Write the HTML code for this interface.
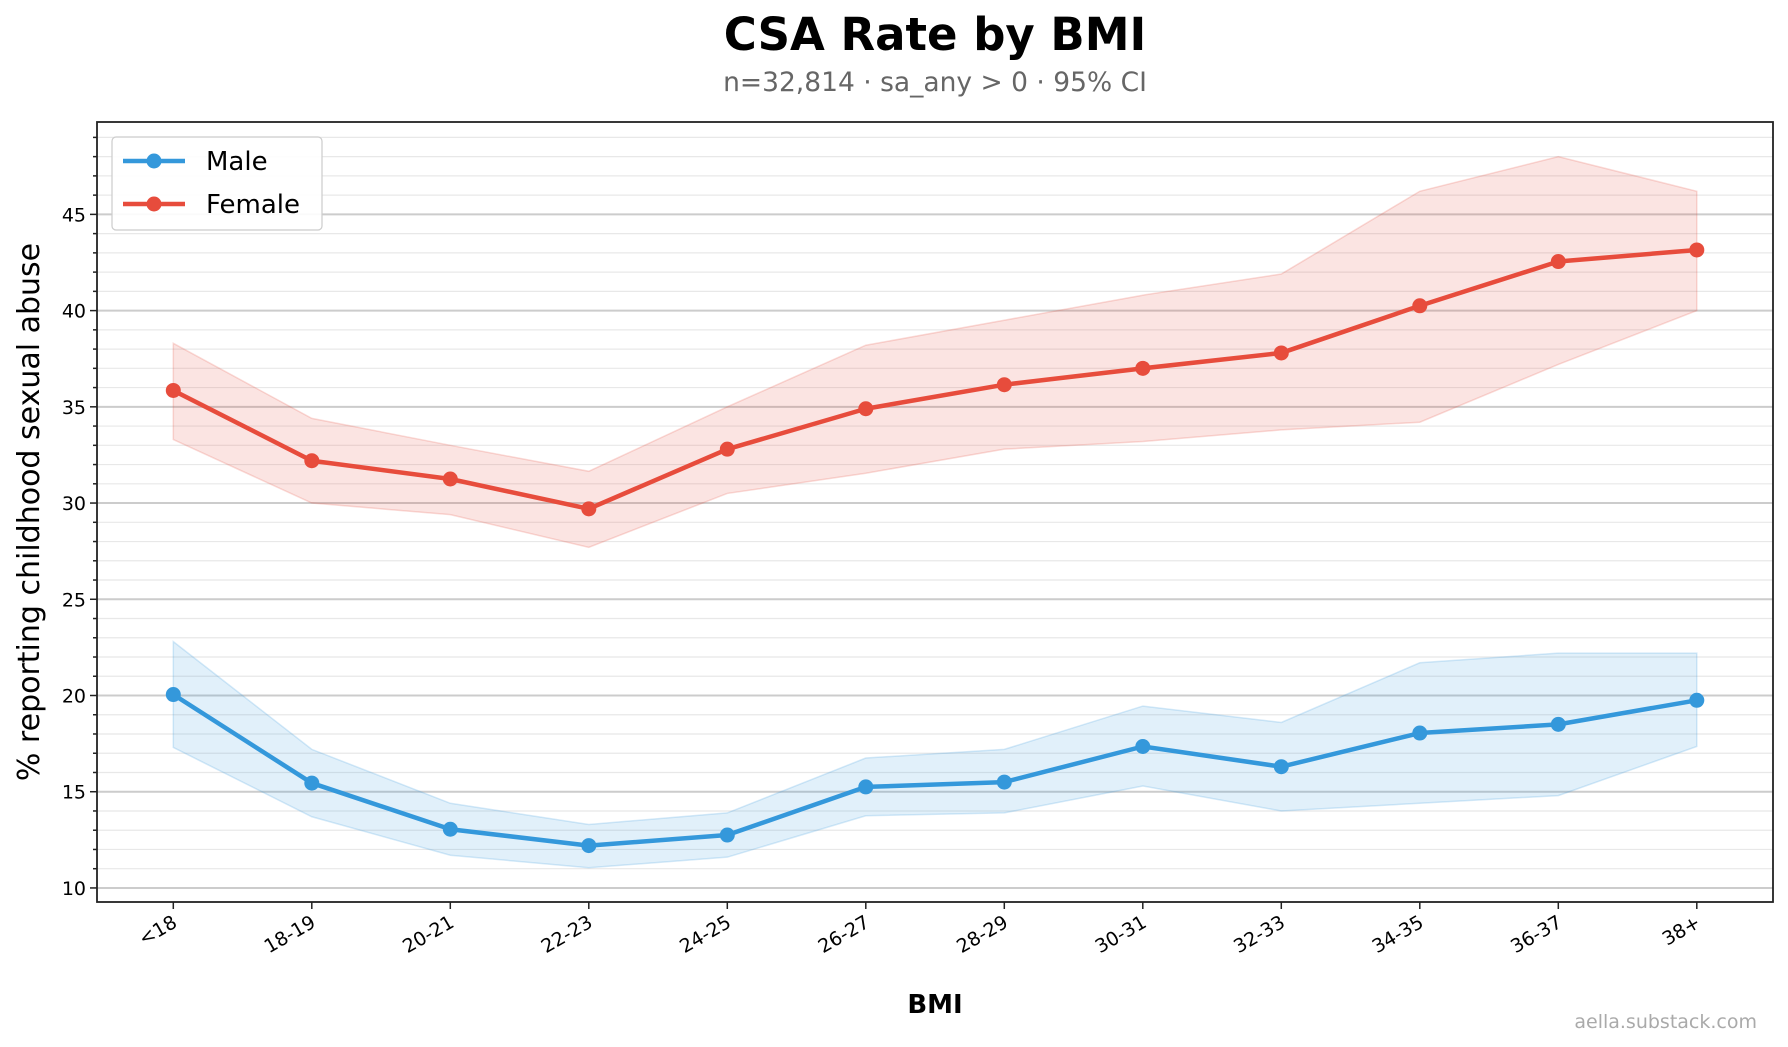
<!DOCTYPE html>
<html><head><meta charset="utf-8"><style>
html,body{margin:0;padding:0;background:#fff}
svg{display:block;font-family:"DejaVu Sans","Liberation Sans",sans-serif}
</style></head><body>
<svg id="chart" width="1788" height="1047" viewBox="0 0 1788 1047" xmlns="http://www.w3.org/2000/svg">
<rect width="1788" height="1047" fill="#fff"/>
<text x="935" y="50" text-anchor="middle" font-size="45" font-weight="bold" fill="#000">CSA Rate by BMI</text>
<text x="935" y="91" text-anchor="middle" font-size="26.5" fill="#666">n=32,814 · sa_any &gt; 0 · 95% CI</text>
<g id="grid"></g>
<g id="bands"></g>
<g id="lines"></g>
<rect x="97" y="122" width="1676" height="780" fill="none" stroke="#222" stroke-width="1.8"/>
<g id="axes"></g>
<text transform="translate(39,512) rotate(-90)" text-anchor="middle" font-size="30" fill="#000">% reporting childhood sexual abuse</text>
<text x="935" y="1013" text-anchor="middle" font-size="26" font-weight="bold" fill="#000">BMI</text>
<text x="1757" y="1028" text-anchor="end" font-size="19" fill="#aaa">aella.substack.com</text>
<g>
<rect x="112" y="137" width="210" height="93" rx="4" fill="#fff" fill-opacity="0.9" stroke="#ccc" stroke-width="1.2"/>
<g>
<line x1="123" y1="161" x2="185" y2="161" stroke="#3498db" stroke-width="4.5"/><circle cx="154" cy="161" r="7.5" fill="#3498db"/>
<text x="206" y="170" font-size="26" fill="#000">Male</text></g>
<g>
<line x1="123" y1="204" x2="185" y2="204" stroke="#e74c3c" stroke-width="4.5"/><circle cx="154" cy="204" r="7.5" fill="#e74c3c"/>
<text x="206" y="213" font-size="26" fill="#000">Female</text></g>
</g>
</svg>
<script>
const categories = ["<18","18-19","20-21","22-23","24-25","26-27","28-29","30-31","32-33","34-35","36-37","38+"];
const femaleVals = [35.85,32.2,31.25,29.7,32.8,34.9,36.15,37.0,37.8,40.25,42.55,43.15];
const femaleUpper = [38.3,34.4,33.0,31.65,35.0,38.2,39.5,40.8,41.9,46.2,48.0,46.2];
const femaleLower = [33.3,30.0,29.4,27.7,30.5,31.55,32.8,33.2,33.8,34.2,37.2,40.0];
const maleVals = [20.05,15.45,13.05,12.2,12.75,15.25,15.5,17.35,16.3,18.05,18.5,19.75];
const maleUpper = [22.8,17.2,14.4,13.3,13.9,16.75,17.2,19.45,18.6,21.7,22.2,22.2];
const maleLower = [17.3,13.7,11.7,11.05,11.6,13.75,13.9,15.3,14.0,14.4,14.8,17.35];
const yTicks = [10,15,20,25,30,35,40,45];

const NS="http://www.w3.org/2000/svg";
const X0=97,X1=1773,Y0=122,Y1=902;
const yMin=9.27,yMax=49.8;
const xFirst=173.3,xStep=138.5;
function xs(i){return xFirst+i*xStep;}
function ys(v){return Y1-(v-yMin)/(yMax-yMin)*(Y1-Y0);}
function mk(tag,attrs,parent){const e=document.createElementNS(NS,tag);for(const k in attrs)e.setAttribute(k,attrs[k]);parent.appendChild(e);return e;}
const grid=document.getElementById('grid'),bands=document.getElementById('bands'),lines=document.getElementById('lines'),axes=document.getElementById('axes');
for(let v=10;v<=49;v++){
  const major=v%5===0;
  const l=mk('line',{x1:X0,x2:X1,y1:ys(v),y2:ys(v),stroke:major?'#ccc':'#e8e8e8','stroke-width':major?2:1.2},grid);
  
  
  mk('line',{x1:X0-(major?7:4),x2:X0,y1:ys(v),y2:ys(v),stroke:'#222','stroke-width':1.5},axes);
}
yTicks.forEach(v=>{
  const t=mk('text',{x:X0-11,y:ys(v)+7,'text-anchor':'end','font-size':19,fill:'#000'},axes);
  t.textContent=v;
  
  
});
categories.forEach((c,i)=>{
  mk('line',{x1:xs(i),x2:xs(i),y1:Y1,y2:Y1+7,stroke:'#222','stroke-width':1.5},axes);
  const t=mk('text',{transform:`translate(${xs(i)+5},${Y1+24}) rotate(-30)`,'text-anchor':'end','font-size':19,fill:'#000'},axes);
  t.textContent=c;
  
  
});
function series(vals,up,lo,color,fill,name){
  let d='M'+up.map((v,i)=>xs(i)+','+ys(v)).join('L');
  for(let i=lo.length-1;i>=0;i--)d+='L'+xs(i)+','+ys(lo[i]);
  const b=mk('path',{d:d+'Z',fill:fill,'fill-opacity':0.15,stroke:fill,'stroke-opacity':0.2,'stroke-width':1.5},bands);
  
  
  const p=mk('polyline',{points:vals.map((v,i)=>xs(i)+','+ys(v)).join(' '),fill:'none',stroke:color,'stroke-width':4.5,'stroke-linejoin':'round'},lines);
  
  
  vals.forEach((v,i)=>{
    const c=mk('circle',{cx:xs(i),cy:ys(v),r:7.5,fill:color},lines);
    
    
  });
}
series(maleVals,maleUpper,maleLower,'#3498db','#3498db','male');
series(femaleVals,femaleUpper,femaleLower,'#e74c3c','#e74c3c','female');
</script>
</body></html>
